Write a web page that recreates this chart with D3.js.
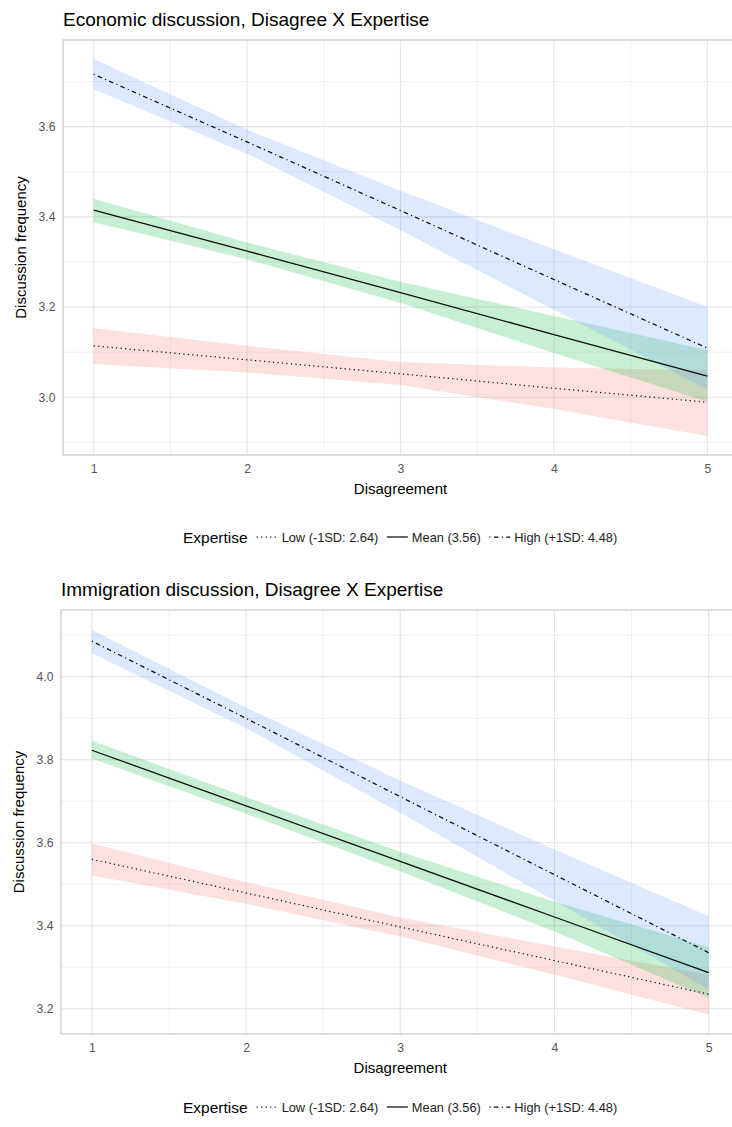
<!DOCTYPE html>
<html>
<head>
<meta charset="utf-8">
<script src="https://cdn.jsdelivr.net/npm/d3@7"></script>
<style>
  body { margin: 0; background: #fff; }
  text { font-family: "Liberation Sans", Arial, Helvetica, sans-serif; }
</style>
</head>
<body>
<div id="chart"></div>
<script>
/** x values (disagreement) and tick labels */
var disagreement = [1, 2, 3, 4, 5];
var xTicks = [1, 2, 3, 4, 5];
var xMinor = [1.5, 2.5, 3.5, 4.5];

/** legend */
var legendTitle = "Expertise";
var legendLabels = ["Low (-1SD: 2.64)", "Mean (3.56)", "High (+1SD: 4.48)"];

/** economic discussion: predicted values and 95% bands */
var econLowFit   = [3.114, 3.083, 3.052, 3.020, 2.989];
var econLowLo    = [3.074, 3.055, 3.027, 2.974, 2.914];
var econLowHi    = [3.153, 3.114, 3.078, 3.066, 3.060];
var econMeanFit  = [3.415, 3.324, 3.232, 3.139, 3.047];
var econMeanLo   = [3.388, 3.306, 3.209, 3.098, 2.990];
var econMeanHi   = [3.440, 3.343, 3.256, 3.180, 3.105];
var econHighFit  = [3.716, 3.566, 3.414, 3.261, 3.109];
var econHighLo   = [3.683, 3.540, 3.370, 3.194, 3.017];
var econHighHi   = [3.750, 3.593, 3.458, 3.328, 3.200];
var econYTicks   = [3.0, 3.2, 3.4, 3.6];
var econYMinor   = [2.9, 3.1, 3.3, 3.5, 3.7];

/** immigration discussion: predicted values and 95% bands */
var immLowFit   = [3.560, 3.479, 3.397, 3.316, 3.235];
var immLowLo    = [3.521, 3.453, 3.374, 3.282, 3.186];
var immLowHi    = [3.598, 3.505, 3.420, 3.350, 3.282];
var immMeanFit  = [3.823, 3.689, 3.555, 3.421, 3.287];
var immMeanLo   = [3.803, 3.670, 3.531, 3.386, 3.226];
var immMeanHi   = [3.846, 3.710, 3.578, 3.458, 3.349];
var immHighFit  = [4.086, 3.900, 3.711, 3.523, 3.335];
var immHighLo   = [4.057, 3.876, 3.672, 3.460, 3.246];
var immHighHi   = [4.113, 3.926, 3.750, 3.584, 3.423];
var immYTicks   = [3.2, 3.4, 3.6, 3.8, 4.0];
var immYMinor   = [3.3, 3.5, 3.7, 3.9, 4.1];

/** group styles */
var fills = ["#F8766D", "#00BA38", "#619CFF"];
var dashes = ["1.2,3.3", null, "1.2,3.3,4.6,3.3"];

var svg = d3.select("#chart")
  .append("svg")
    .attr("width", 732)
    .attr("height", 1127)
    .style("background", "#fff");

function zip(fit, lo, hi) {
  return disagreement.map(function(x, i) { return {x: x, fit: fit[i], lo: lo[i], hi: hi[i]}; });
}

/**
 * Draws one panel with its title, axes, bands, lines and legend.
 */
function drawPanel(cfg) {
  var g = svg.append("g");

  var x = d3.scaleLinear().domain([0.8, 5.2]).range([cfg.left, cfg.right]);
  var y = d3.scaleLinear().domain(cfg.yDomain).range([cfg.bottom, cfg.top]);

  var clipId = "clip" + cfg.id;
  svg.append("clipPath").attr("id", clipId)
    .append("rect")
      .attr("x", cfg.left).attr("y", cfg.top)
      .attr("width", cfg.right - cfg.left).attr("height", cfg.bottom - cfg.top);

  /** title */
  g.append("text")
    .attr("x", cfg.left)
    .attr("y", cfg.titleY)
    .attr("font-size", 19)
    .attr("fill", "#000")
    .text(cfg.title);

  /** grid */
  var grid = g.append("g").attr("clip-path", "url(#" + clipId + ")");
  grid.selectAll(".ymin").data(cfg.yMinor).enter().append("line")
    .attr("x1", cfg.left).attr("x2", cfg.right)
    .attr("y1", function(d) { return y(d); }).attr("y2", function(d) { return y(d); })
    .attr("stroke", "#f1f1f1").attr("stroke-width", 1);
  grid.selectAll(".xmin").data(xMinor).enter().append("line")
    .attr("y1", cfg.top).attr("y2", cfg.bottom)
    .attr("x1", function(d) { return x(d); }).attr("x2", function(d) { return x(d); })
    .attr("stroke", "#f1f1f1").attr("stroke-width", 1);
  grid.selectAll(".ymaj").data(cfg.yTicks).enter().append("line")
    .attr("x1", cfg.left).attr("x2", cfg.right)
    .attr("y1", function(d) { return y(d); }).attr("y2", function(d) { return y(d); })
    .attr("stroke", "#e3e3e3").attr("stroke-width", 1.1);
  grid.selectAll(".xmaj").data(xTicks).enter().append("line")
    .attr("y1", cfg.top).attr("y2", cfg.bottom)
    .attr("x1", function(d) { return x(d); }).attr("x2", function(d) { return x(d); })
    .attr("stroke", "#e3e3e3").attr("stroke-width", 1.1);

  /** bands then lines */
  var plot = g.append("g").attr("clip-path", "url(#" + clipId + ")");
  var area = d3.area()
    .x(function(d) { return x(d.x); })
    .y0(function(d) { return y(d.lo); })
    .y1(function(d) { return y(d.hi); });
  var line = d3.line()
    .x(function(d) { return x(d.x); })
    .y(function(d) { return y(d.fit); });

  plot.selectAll(".band").data(cfg.series).enter().append("path")
    .attr("d", function(d) { return area(d); })
    .attr("fill", function(d, i) { return fills[i]; })
    .attr("fill-opacity", 0.22);

  plot.selectAll(".fit").data(cfg.series).enter().append("path")
    .attr("d", function(d) { return line(d); })
    .attr("fill", "none")
    .attr("stroke", "#0d0d0d")
    .attr("stroke-width", 1.25)
    .attr("stroke-dasharray", function(d, i) { return dashes[i]; });

  /** panel border */
  g.append("rect")
    .attr("x", cfg.left).attr("y", cfg.top)
    .attr("width", cfg.right - cfg.left).attr("height", cfg.bottom - cfg.top)
    .attr("fill", "none").attr("stroke", "#c4c4c4").attr("stroke-width", 1.1);

  /** axes */
  var xAxis = g.append("g")
    .attr("transform", "translate(0," + cfg.bottom + ")")
    .call(d3.axisBottom(x).tickValues(xTicks).tickSize(0).tickPadding(9).tickFormat(d3.format("d")));
  var yAxis = g.append("g")
    .attr("transform", "translate(" + cfg.left + ",0)")
    .call(d3.axisLeft(y).tickValues(cfg.yTicks).tickSize(0).tickPadding(7.5).tickFormat(d3.format(".1f")));
  [xAxis, yAxis].forEach(function(a) {
    a.select(".domain").remove();
    a.selectAll("line").remove();
    a.selectAll("text")
      .attr("font-size", 12.2)
      .attr("fill", "#555")
      .style("font-family", "'Liberation Sans', Arial, sans-serif");
  });

  /** axis titles */
  g.append("text")
    .attr("x", (cfg.left + cfg.right) / 2)
    .attr("y", cfg.bottom + 39)
    .attr("text-anchor", "middle")
    .attr("font-size", 15)
    .attr("fill", "#000")
    .text("Disagreement");
  g.append("text")
    .attr("transform", "translate(" + cfg.yLabelX + "," + ((cfg.top + cfg.bottom) / 2) + ") rotate(-90)")
    .attr("text-anchor", "middle")
    .attr("font-size", 15)
    .attr("fill", "#000")
    .text("Discussion frequency");

  /** legend */
  var lg = g.append("g").attr("transform", "translate(0," + cfg.legendY + ")");
  var lx = 183;
  var t = lg.append("text").attr("x", lx).attr("y", 5.5)
    .attr("font-size", 15.5).attr("fill", "#000").text(legendTitle);
  lx += t.node().getComputedTextLength() + 8;
  legendLabels.forEach(function(lab, i) {
    lg.append("line")
      .attr("x1", lx + 1).attr("x2", lx + 22)
      .attr("y1", 0).attr("y2", 0)
      .attr("stroke", "#0d0d0d").attr("stroke-width", 1.25)
      .attr("stroke-dasharray", dashes[i]);
    lx += 26;
    var tt = lg.append("text").attr("x", lx).attr("y", 4.5)
      .attr("font-size", 12.8).attr("fill", "#222").text(lab);
    lx += tt.node().getComputedTextLength() + 7.5;
  });
}

drawPanel({
  id: "econ",
  title: "Economic discussion, Disagree X Expertise",
  titleY: 25.5,
  left: 63, right: 738, top: 40, bottom: 455,
  yDomain: [2.872, 3.792],
  yTicks: econYTicks, yMinor: econYMinor,
  yLabelX: 26,
  legendY: 537,
  series: [zip(econLowFit, econLowLo, econLowHi),
           zip(econMeanFit, econMeanLo, econMeanHi),
           zip(econHighFit, econHighLo, econHighHi)]
});

drawPanel({
  id: "imm",
  title: "Immigration discussion, Disagree X Expertise",
  titleY: 596,
  left: 61, right: 739.5, top: 610, bottom: 1034,
  yDomain: [3.139, 4.161],
  yTicks: immYTicks, yMinor: immYMinor,
  yLabelX: 24,
  legendY: 1107,
  series: [zip(immLowFit, immLowLo, immLowHi),
           zip(immMeanFit, immMeanLo, immMeanHi),
           zip(immHighFit, immHighLo, immHighHi)]
});
</script>
</body>
</html>
